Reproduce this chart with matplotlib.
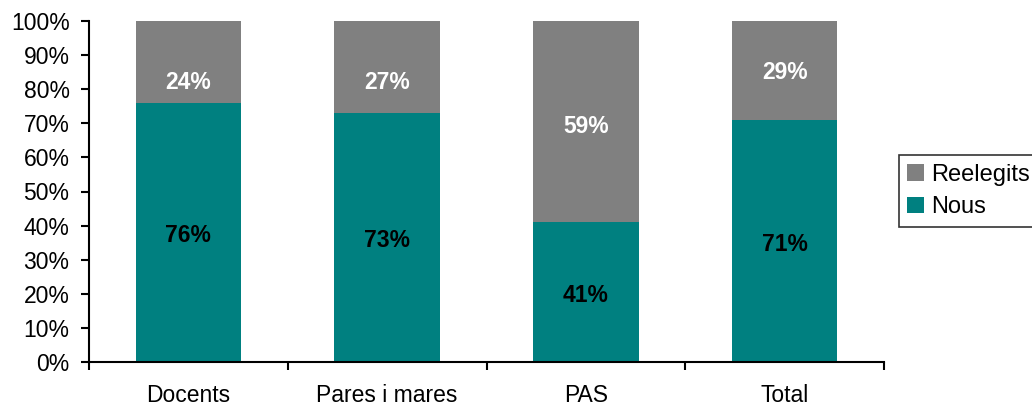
import matplotlib.pyplot as plt
import numpy as np

# dades
categories = ['Docents', 'Pares i mares', 'PAS', 'Total']
nous = [76, 73, 41, 71]
reelegits = [24, 27, 59, 29]
# posició vertical de les etiquetes grises (en %)
reel_label_pos = [82, 82, 69, 85]

plt.rcParams['font.family'] = ['Liberation Sans', 'DejaVu Sans']

teal = '#008080'
grey = '#808080'

fig = plt.figure(figsize=(10.32, 4.09), dpi=100)
ax = fig.add_axes([89 / 1032, 1 - 362 / 409, (884 - 89) / 1032, (362 - 21) / 409])

x = np.arange(len(categories))
w = 0.53
b1 = ax.bar(x, nous, w, color=teal, label='Nous')
b2 = ax.bar(x, reelegits, w, bottom=nous, color=grey, label='Reelegits')

for i in range(len(x)):
    ax.text(x[i], nous[i] / 2 - 1, f'{nous[i]}%', ha='center', va='center',
            fontsize=16.5, fontweight='bold', color='black')
    ax.text(x[i], reel_label_pos[i], f'{reelegits[i]}%', ha='center', va='center',
            fontsize=16.5, fontweight='bold', color='white')

ax.set_xlim(-0.5, len(categories) - 0.5)
ax.set_ylim(0, 100)
ax.set_yticks(np.arange(0, 101, 10))
ax.set_yticklabels([f'{v}%' for v in range(0, 101, 10)])
ax.set_xticks(x)
ax.set_xticklabels(categories)
ax.set_xticks(np.arange(-0.5, len(categories)), minor=True)

ax.tick_params(axis='y', direction='out', length=6, width=1.5, pad=8, labelsize=16.5)
ax.tick_params(axis='x', which='major', length=0, pad=16, labelsize=16.5)
ax.tick_params(axis='x', which='minor', direction='out', length=6, width=1.5)

for s in ['top', 'right']:
    ax.spines[s].set_visible(False)
for s in ['left', 'bottom']:
    ax.spines[s].set_linewidth(1.5)

leg = fig.legend([b2, b1], ['Reelegits', 'Nous'], loc='center left',
                 bbox_to_anchor=(899 / 1032, 1 - 191 / 409), fontsize=17,
                 frameon=True, fancybox=False, handlelength=0.7, handleheight=0.7,
                 handletextpad=0.3, labelspacing=0.45, borderpad=0.35, borderaxespad=0)
leg.get_frame().set_edgecolor('black')
leg.get_frame().set_linewidth(1.2)

fig.savefig('out.png', dpi=100)
